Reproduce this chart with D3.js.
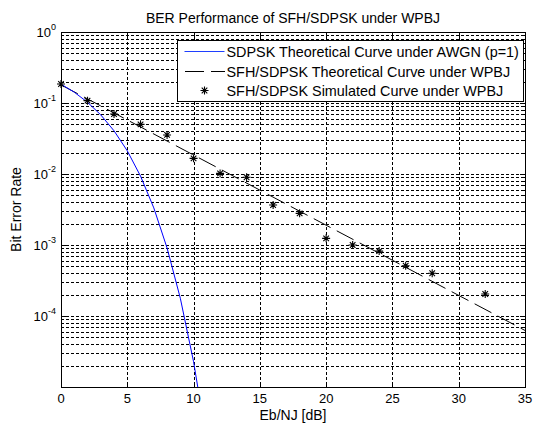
<!DOCTYPE html>
<html>
<head>
<meta charset="utf-8">
<script src="https://cdn.jsdelivr.net/npm/d3@7"></script>
<style>
  body { margin: 0; background: #fff; }
  svg { font-family: "Liberation Sans", Arial, sans-serif; }
  .grid line { stroke: #000; stroke-width: 1; stroke-dasharray: 3,2; shape-rendering: crispEdges; }
</style>
</head>
<body>
<div id="chart"></div>
<script>
// data
const xTicks = [0, 5, 10, 15, 20, 25, 30, 35];
const yDecades = [0, -1, -2, -3, -4];

const awgnX = [0, 1, 2, 3, 4, 5, 6, 7, 8, 9, 10, 11];
const awgnBer = [0.184, 0.142, 0.1025, 0.068, 0.0406, 0.0212, 0.00933, 0.00333, 0.000909, 0.000178, 0.0000227, 0.0000017];

const theoryX = [0, 5, 10, 15, 20, 25, 30, 35];
const theoryBer = [0.18, 0.0577, 0.0185, 0.00593, 0.0019, 0.00061, 0.000195, 0.0000626];

const simX = [0, 2, 4, 6, 8, 10, 12, 14, 16, 18, 20, 22, 24, 26, 28, 32];
const simBer = [0.185, 0.108, 0.070, 0.050, 0.0355, 0.0166, 0.0102, 0.0090, 0.00366, 0.00279, 0.00124, 0.0010, 0.00082, 0.00051, 0.0004, 0.000204];

const legendLabels = [
    'SDPSK Theoretical Curve under AWGN (p=1)',
    'SFH/SDPSK Theoretical Curve under WPBJ',
    'SFH/SDPSK Simulated Curve under WPBJ'
];

const W = 536, H = 425;
const margin = {top: 32, right: 11, bottom: 38, left: 61};
const width = W - margin.left - margin.right;
const height = H - margin.top - margin.bottom;

const svg = d3.select('#chart').append('svg')
    .attr('width', W)
    .attr('height', H);

const g = svg.append('g')
    .attr('transform', `translate(${margin.left},${margin.top})`);

const x = d3.scaleLinear().domain([0, 35]).range([0, width]);
const y = d3.scaleLog().domain([1e-5, 1]).range([height, 0]);

// grid: major x, every log tick on y
const yGrid = [];
for (let e = -5; e < 0; e++) {
    for (let m = 1; m <= 9; m++) {
        const v = m * Math.pow(10, e);
        if (v > 1e-5) yGrid.push(v);
    }
}

const grid = g.append('g').attr('class', 'grid');
grid.selectAll('.gx')
    .data(xTicks.filter(d => d > 0 && d < 35))
    .join('line')
    .attr('x1', d => Math.round(x(d)) + 0.5)
    .attr('x2', d => Math.round(x(d)) + 0.5)
    .attr('y1', 0)
    .attr('y2', height);
grid.selectAll('.gy')
    .data(yGrid)
    .join('line')
    .attr('class', 'gy')
    .attr('x1', 0)
    .attr('x2', width)
    .attr('y1', d => Math.round(y(d)) + 0.5)
    .attr('y2', d => Math.round(y(d)) + 0.5);

// inward ticks on all four sides
const ticks = g.append('g').attr('stroke', '#000').attr('shape-rendering', 'crispEdges');
xTicks.forEach(t => {
    const px = Math.round(x(t)) + 0.5;
    ticks.append('line').attr('x1', px).attr('x2', px).attr('y1', height).attr('y2', height - 5);
    ticks.append('line').attr('x1', px).attr('x2', px).attr('y1', 0).attr('y2', 5);
});
yGrid.forEach(v => {
    const py = Math.round(y(v)) + 0.5;
    const len = Number.isInteger(Math.log10(v)) ? 5 : 3;
    ticks.append('line').attr('x1', 0).attr('x2', len).attr('y1', py).attr('y2', py);
    ticks.append('line').attr('x1', width).attr('x2', width - len).attr('y1', py).attr('y2', py);
});

// frame
g.append('rect')
    .attr('x', 0.5).attr('y', 0.5)
    .attr('width', width).attr('height', height)
    .attr('fill', 'none').attr('stroke', '#000')
    .attr('shape-rendering', 'crispEdges');

// x tick labels
g.append('g').selectAll('text')
    .data(xTicks)
    .join('text')
    .attr('x', d => x(d))
    .attr('y', height + 16)
    .attr('text-anchor', 'middle')
    .attr('font-size', 13)
    .text(d => d);

// y tick labels 10^k
const yl = g.append('g').selectAll('text')
    .data(yDecades)
    .join('text')
    .attr('x', -5)
    .attr('y', d => y(Math.pow(10, d)) + 5)
    .attr('text-anchor', 'end')
    .attr('font-size', 13);
yl.append('tspan').text('10');
yl.append('tspan')
    .attr('font-size', 9)
    .attr('dy', -7)
    .text(d => d);

// curves
svg.append('clipPath').attr('id', 'clip')
    .append('rect').attr('width', width).attr('height', height);
const plot = g.append('g').attr('clip-path', 'url(#clip)');

const line = d3.line().x(d => x(d[0])).y(d => y(d[1]));

plot.append('path')
    .datum(d3.zip(theoryX, theoryBer))
    .attr('d', line)
    .attr('fill', 'none')
    .attr('stroke', '#000')
    .attr('stroke-width', 1)
    .attr('stroke-dasharray', '19,7');

plot.append('path')
    .datum(d3.zip(awgnX, awgnBer))
    .attr('d', line)
    .attr('fill', 'none')
    .attr('stroke', '#0000ff')
    .attr('stroke-width', 1);

const starPath = r => {
    const d = r * 0.7;
    return `M0,${-r}V${r}M${-r},0H${r}M${-d},${-d}L${d},${d}M${-d},${d}L${d},${-d}`;
};

g.append('g').selectAll('.star')
    .data(d3.zip(simX, simBer))
    .join('path')
    .attr('class', 'star')
    .attr('transform', d => `translate(${x(d[0])},${y(d[1])})`)
    .attr('d', starPath(4))
    .attr('stroke', '#000')
    .attr('stroke-width', 1.1)
    .attr('fill', 'none');

// legend
const lg = svg.append('g').attr('transform', 'translate(177.5,40.5)');
lg.append('rect')
    .attr('width', 346).attr('height', 61)
    .attr('fill', '#fff').attr('stroke', '#000')
    .attr('shape-rendering', 'crispEdges');
const rowY = [11, 31, 50];
lg.append('line').attr('x1', 7).attr('x2', 47).attr('y1', rowY[0]).attr('y2', rowY[0])
    .attr('stroke', '#1f3fff').attr('stroke-width', 1.2);
lg.append('line').attr('x1', 7).attr('x2', 47).attr('y1', rowY[1]).attr('y2', rowY[1])
    .attr('stroke', '#000').attr('stroke-dasharray', '19,7').attr('shape-rendering', 'crispEdges');
lg.append('path').attr('transform', `translate(27,${rowY[2]})`)
    .attr('d', starPath(4)).attr('stroke', '#000').attr('stroke-width', 1.1).attr('fill', 'none');
lg.selectAll('.lt')
    .data(legendLabels)
    .join('text')
    .attr('x', 49)
    .attr('y', (d, i) => rowY[i] + 5)
    .attr('font-size', 14.4)
    .text(d => d);

// title and axis labels
svg.append('text')
    .attr('x', margin.left + width / 2)
    .attr('y', 23)
    .attr('text-anchor', 'middle')
    .attr('font-size', 14)
    .text('BER Performance of SFH/SDPSK under WPBJ');

svg.append('text')
    .attr('x', margin.left + width / 2)
    .attr('y', 420)
    .attr('text-anchor', 'middle')
    .attr('font-size', 14)
    .text('Eb/NJ [dB]');

svg.append('text')
    .attr('transform', `translate(21,${margin.top + height / 2}) rotate(-90)`)
    .attr('text-anchor', 'middle')
    .attr('font-size', 14)
    .text('Bit Error Rate');
</script>
</body>
</html>
